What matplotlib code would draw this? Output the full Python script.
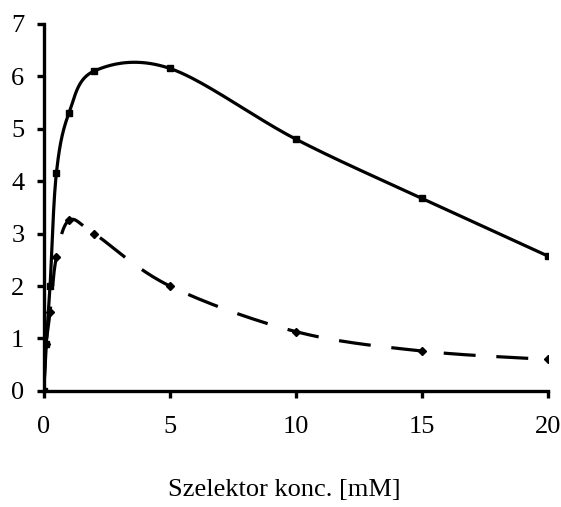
import numpy as np
import matplotlib
matplotlib.use("Agg")
import matplotlib.pyplot as plt

plt.rcParams['font.family'] = ['Liberation Serif', 'DejaVu Serif']

# data
conc = [0, 0.1, 0.25, 0.5, 1, 2, 5, 10, 15, 20]
solid_vals = [0, 0.9, 2.0, 4.15, 5.3, 6.1, 6.15, 4.8, 3.67, 2.57]
dashed_vals = [0, 0.9, 1.5, 2.55, 3.25, 3.0, 2.0, 1.13, 0.76, 0.6]
xticks = [0, 5, 10, 15, 20]
yticks = [0, 1, 2, 3, 4, 5, 6, 7]


def smooth(x, y, n=40):
    # excel-like smoothed line (bezier, control points at 1/6 of neighbour span)
    p = np.column_stack([x, y]).astype(float)
    out = []
    for i in range(len(p) - 1):
        p0 = p[i - 1] if i > 0 else p[i]
        p1, p2 = p[i], p[i + 1]
        p3 = p[i + 2] if i + 2 < len(p) else p[i + 1]
        c1 = p1 + (p2 - p0) / 6
        c2 = p2 - (p3 - p1) / 6
        t = np.linspace(0, 1, n)[:, None]
        seg = ((1 - t) ** 3) * p1 + 3 * ((1 - t) ** 2) * t * c1 + 3 * (1 - t) * t ** 2 * c2 + t ** 3 * p2
        out.append(seg if i == 0 else seg[1:])
    s = np.vstack(out)
    return s[:, 0], s[:, 1]


fig = plt.figure(figsize=(5.61, 5.07), dpi=100)
ax = fig.add_axes([0.078, 0.229, 0.899, 0.724])

sx, sy = smooth(conc, solid_vals)
ax.plot(sx, sy, color='black', lw=2.3, solid_capstyle='butt')
ax.plot(conc, solid_vals, ls='none', marker='s', ms=5, color='black')

dx, dy = smooth(conc, dashed_vals)
ax.plot(dx, dy, color='black', lw=2.3, dashes=(10, 6.5), dash_capstyle='butt')
ax.plot(conc, dashed_vals, ls='none', marker='D', ms=4.5, color='black')

ax.set_xlim(0, 20)
ax.set_ylim(0, 7)
ax.set_xticks(xticks)
ax.set_yticks(yticks)
ax.spines['top'].set_visible(False)
ax.spines['right'].set_visible(False)
for s in ['left', 'bottom']:
    ax.spines[s].set_linewidth(2.4)
ax.tick_params(axis='x', direction='out', length=5, width=2.4, labelsize=19, pad=13)
ax.tick_params(axis='y', direction='out', length=5, width=2.4, labelsize=19, pad=9)
ax.set_xlabel('Szelektor konc. [mM]', fontsize=19)
ax.xaxis.set_label_coords(0.476, -0.24)

fig.savefig('out.png', dpi=100)
